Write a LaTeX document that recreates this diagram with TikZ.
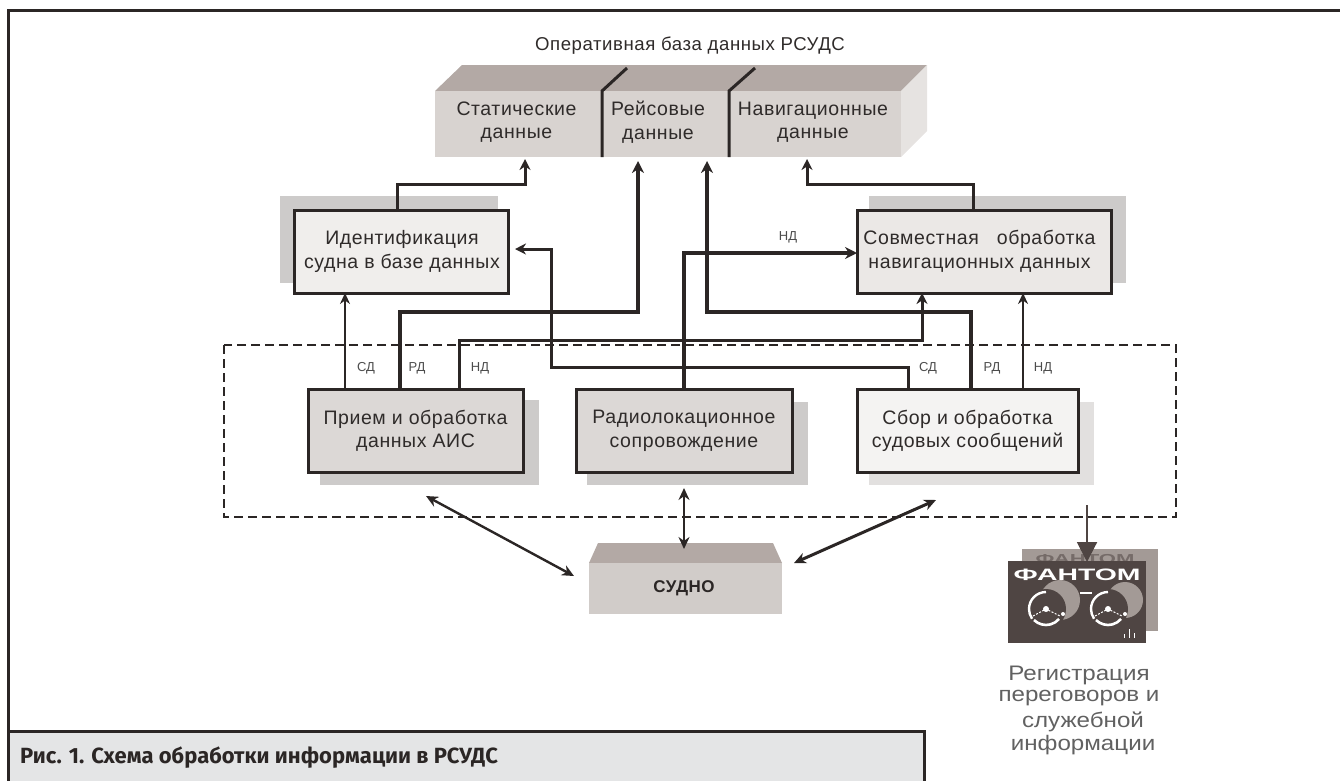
\documentclass[tikz,border=0pt]{standalone}
\usepackage{fontspec}
\setmainfont{Liberation Sans}
\newfontfamily\spaced[LetterSpace=3]{Liberation Sans}
\newfontfamily\capfont{Fira Sans}
\usetikzlibrary{arrows.meta}
\definecolor{ink}{HTML}{2B2625}
\definecolor{txt}{HTML}{2F2B2A}
\definecolor{dbfront}{HTML}{D8D3D0}
\definecolor{dbtop}{HTML}{B3A9A5}
\definecolor{dbside}{HTML}{E6E3E1}
\definecolor{shadowtone}{HTML}{CDCBCA}
\definecolor{shadowlight}{HTML}{E2E0DF}
\definecolor{logodark}{HTML}{4F4543}
\definecolor{logomid}{HTML}{A39A96}
\definecolor{capfill}{HTML}{E4E5E6}
\tikzset{
  x=1pt,y=-1pt,
  lab/.style={font=\spaced\fontsize{19.5}{23.5}\selectfont,text=txt,align=center,inner sep=0pt,outer sep=0pt},
  procbox/.style={lab,draw=ink,line width=3pt,minimum height=83pt},
  dbcell/.style={lab,fill=dbfront,minimum height=66pt},
  flowlab/.style={font=\fontsize{13}{15}\selectfont,text=black!70,inner sep=0pt},
  thinflow/.style={draw=ink,line width=2.4pt,-{Stealth[length=11pt,width=10pt]}},
  midflow/.style={draw=ink,line width=3pt,-{Stealth[length=11pt,width=11pt]}},
  heavyflow/.style={draw=ink,line width=4pt,-{Stealth[length=12pt,width=12pt]}},
  twoway/.style={draw=ink,line width=2.4pt,{Stealth[length=12pt,width=11pt]}-{Stealth[length=12pt,width=11pt]}},
  regline/.style={font=\fontsize{21}{24}\selectfont,text=black!62,inner sep=0pt}
}
\begin{document}
\begin{tikzpicture}
\useasboundingbox (0,0) rectangle (1340,780);
% frame
\draw[ink,line width=3pt] (8,780) -- (8,10) -- (1340,10);
\node[draw=ink,line width=3pt,fill=capfill,minimum width=916pt,minimum height=60pt,inner sep=0pt,outer sep=0pt] (capbox) at (466,761) {};
\node[anchor=west,font=\capfont\bfseries\fontsize{22}{24}\selectfont,text=ink,inner sep=0pt] (captext) at (20,758) {Рис. 1. Схема обработки информации в РСУДС};
% database
\node[lab,font=\spaced\fontsize{18.6}{22}\selectfont] (dbtitle) at (690,46) {Оперативная база данных РСУДС};
\fill[dbtop] (435,91) -- (462,65) -- (927,65) -- (901,91) -- cycle;
\fill[dbside] (901,91) -- (927,65) -- (927,131) -- (901,157) -- cycle;
\node[dbcell,minimum width=167pt] (dbA) at (518.5,124) {};
\node[dbcell,minimum width=127pt] (dbB) at (665.5,124) {};
\node[dbcell,minimum width=172pt] (dbC) at (815,124) {};
\node[lab] (dbAt) at (516.5,122) {Статические\\данные};
\node[lab] (dbBt) at (658,122) {Рейсовые\\данные};
\node[lab] (dbCt) at (813,122) {Навигационные\\данные};
\draw[ink,line width=3pt] (602,157) -- (602,91) -- (627,68);
\draw[ink,line width=3pt] (729,157) -- (729,91) -- (755,68);
% shadows
\fill[shadowtone] (280,196) rectangle (498,283);
\fill[shadowtone] (869,196) rectangle (1126,283);
\fill[shadowtone] (320,400) rectangle (539,485);
\fill[shadowtone] (587,402) rectangle (808,485);
\fill[shadowlight] (869,402) rectangle (1094,485);
% boxes
\node[procbox,minimum width=214pt,fill={rgb,255:red,240;green,238;blue,236}] (idn) at (401,251.5) {\hspace*{2pt}Идентификация\\\hspace*{2pt}судна в базе данных};
\node[procbox,minimum width=254pt,fill={rgb,255:red,235;green,232;blue,230}] (nav) at (984,251.5) {\hspace*{-9pt}Совместная\ \ \ обработка\\\hspace*{-9pt}навигационных данных};
\node[procbox,minimum width=215pt,fill={rgb,255:red,220;green,216;blue,214}] (prm) at (415.5,431) {Прием и обработка\\данных АИС};
\node[procbox,minimum width=216pt,fill={rgb,255:red,220;green,216;blue,214}] (rad) at (684,431) {Радиолокационное\\сопровождение};
\node[procbox,minimum width=221pt,fill={rgb,255:red,244;green,243;blue,242}] (sbr) at (967.5,431) {Сбор и обработка\\судовых сообщений};
% dashed group
\coordinate (grpNW) at (224,345);
\coordinate (grpSE) at (1176,517);
\draw[ink,line width=1.2pt,dash pattern=on 9pt off 5pt] (grpNW) rectangle (grpSE);
% connectors to the database
\draw[midflow,shorten >=2pt] (397,0 |- idn.north) -- (397,184) -| (525,0 |- dbA.south);
\draw[midflow,shorten >=2pt] (973,0 |- nav.north) -- (973,184) -| (807,0 |- dbC.south);
\draw[heavyflow,shorten >=4pt] (400,0 |- prm.north) -- (400,312) -| (638,0 |- dbB.south);
\draw[heavyflow,line width=3.6pt,shorten >=4pt] (971,0 |- sbr.north) -- (971,312) -| (707,0 |- dbB.south);
% connectors between boxes
\draw[thinflow] (345,0 |- prm.north) -- (345,0 |- idn.south);
\draw[midflow] (459,0 |- prm.north) -- (459,340) -| (922,0 |- nav.south);
\draw[midflow,shorten >=7pt] (908,0 |- sbr.north) -- (908,367) -| (551,249) -- (idn.east |- 0,249);
\draw[thinflow] (1023,0 |- sbr.north) -- (1023,0 |- nav.south);
\draw[heavyflow] (684,0 |- rad.north) -- (684,253) -- (nav.west |- 0,253);
% flow labels
\node[flowlab] (l1) at (366,368) {СД};
\node[flowlab] (l2) at (417,368) {РД};
\node[flowlab] (l3) at (480,368) {НД};
\node[flowlab] (l4) at (788,237) {НД};
\node[flowlab] (l5) at (928,368) {СД};
\node[flowlab] (l6) at (992,368) {РД};
\node[flowlab] (l7) at (1043,368) {НД};
% ship
\fill[dbtop] (589,563) -- (598,543) -- (773,543) -- (782,563) -- cycle;
\node[lab,fill={rgb,255:red,209;green,204;blue,201},minimum width=193pt,minimum height=51pt,font=\spaced\bfseries\fontsize{17}{19}\selectfont,text=ink] (ship) at (685.5,588.5) {\hspace*{-3pt}СУДНО};
\coordinate (shipTop) at (684,549);
\coordinate (shipL) at (574,576);
\coordinate (shipR) at (794,563);
\coordinate (radOut) at (684,488);
\coordinate (prmOut) at (426,496);
\coordinate (sbrOut) at (936,500);
\draw[twoway] (radOut) -- (shipTop);
\draw[twoway] (prmOut) -- (shipL);
\draw[twoway,line width=3pt] (sbrOut) -- (shipR);
% logo
\fill[logomid] (1022,549) rectangle (1158,631);
\node[font=\bfseries\fontsize{13}{15}\selectfont,text=logodark!55!logomid,inner sep=0pt] (logoBack) at (1085,559) {\scalebox{1.7}[1]{ФАНТОМ}};
\fill[logodark] (1008,561) rectangle (1146,643);
\fill[logomid] (1060,600) circle (20);
\fill[logomid] (1125,600) circle (18);
\fill[logodark] (1046,609) circle (20);
\fill[logodark] (1108,609) circle (20);
\node[font=\bfseries\fontsize{16.5}{18}\selectfont,text=white,inner sep=0pt] (logo) at (1077,575) {\scalebox{1.72}[1]{ФАНТОМ}};
\draw[white,line width=2.4pt] (1046,592) arc (-90:-215:17);
\draw[white,line width=2.6pt] (1034,620) arc (-225:-320:17);
\draw[white,line width=2.4pt] (1108,592) arc (-90:-215:17);
\draw[white,line width=2.6pt] (1096,620) arc (-225:-320:17);
\draw[white,line width=1pt,dash pattern=on 2pt off 1.5pt] (1033,616) -- (1046,609) -- (1060,616);
\draw[white,line width=1pt,dash pattern=on 2pt off 1.5pt] (1095,616) -- (1108,609) -- (1122,616);
\fill[white] (1046,609) circle (3);
\fill[white] (1108,609) circle (3);
\fill[white] (1063,614) circle (2);
\fill[white] (1125,614) circle (2);
\draw[white,line width=1.2pt] (1080,593) -- (1092,593);
\draw[white,line width=1pt] (1124,638) -- (1124,634) (1129,638) -- (1129,629) (1134,638) -- (1134,633);
% arrow into the logo
\coordinate (grpOut) at (1087,505);
\coordinate (logoIn) at (1087,562);
\draw[draw=logodark,line width=2pt,-{Stealth[length=20pt,width=20pt,inset=0pt]}] (grpOut) -- (logoIn);
% caption of the logo
\node[regline] (r1) at (1079,675) {\scalebox{1.15}[1]{Регистрация}};
\node[regline] (r2) at (1079,698) {\scalebox{1.15}[1]{переговоров и}};
\node[regline] (r3) at (1083,722) {\scalebox{1.15}[1]{служебной}};
\node[regline] (r4) at (1083,745) {\scalebox{1.15}[1]{информации}};
\end{tikzpicture}
\end{document}
